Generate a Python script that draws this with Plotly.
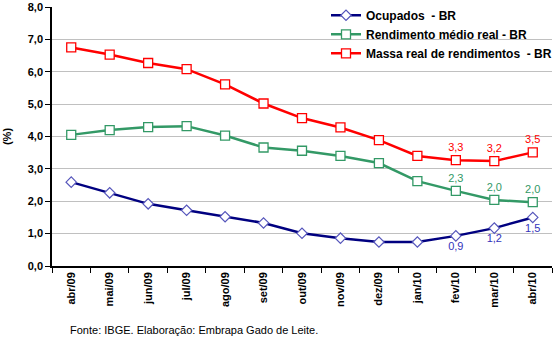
import plotly.graph_objects as go

months = ["abr/09", "mai/09", "jun/09", "jul/09", "ago/09", "set/09", "out/09",
          "nov/09", "dez/09", "jan/10", "fev/10", "mar/10", "abr/10"]
ocupados = [2.59, 2.26, 1.92, 1.72, 1.52, 1.33, 1.01, 0.86, 0.74, 0.74, 0.93, 1.17, 1.50]
rendimento = [4.05, 4.20, 4.29, 4.32, 4.03, 3.66, 3.56, 3.40, 3.18, 2.62, 2.32, 2.04, 1.97]
massa = [6.75, 6.53, 6.27, 6.08, 5.61, 5.02, 4.57, 4.28, 3.89, 3.40, 3.27, 3.24, 3.51]

# only the last three points carry value labels
def last_labels(vals, n=3):
    return ["" if i < len(vals) - n else f"{v:.1f}".replace(".", ",") for i, v in enumerate(vals)]

FONT = "Liberation Sans, Arial, sans-serif"

fig = go.Figure()
fig.add_trace(go.Scatter(
    x=months, y=ocupados, name="Ocupados  - BR", mode="lines+markers+text",
    line=dict(color="#000080", width=2.5),
    marker=dict(symbol="diamond", size=8, color="white", line=dict(color="#5555bb", width=1.2)),
    text=last_labels(ocupados), textposition="bottom center",
    textfont=dict(family=FONT, size=11, color="#3333bb"),
))
fig.add_trace(go.Scatter(
    x=months, y=rendimento, name="Rendimento médio real - BR", mode="lines+markers+text",
    line=dict(color="#339966", width=2.5),
    marker=dict(symbol="square", size=9, color="white", line=dict(color="#339966", width=1.3)),
    text=last_labels(rendimento), textposition="top center",
    textfont=dict(family=FONT, size=11, color="#339966"),
))
fig.add_trace(go.Scatter(
    x=months, y=massa, name="Massa real de rendimentos  - BR", mode="lines+markers+text",
    line=dict(color="#ff0000", width=2.5),
    marker=dict(symbol="square", size=9, color="white", line=dict(color="#ff0000", width=1.3)),
    text=last_labels(massa), textposition="top center",
    textfont=dict(family=FONT, size=11, color="#ff0000"),
))

fig.update_layout(
    width=560, height=339,
    margin=dict(l=52, r=8, t=7, b=73, autoexpand=False),
    paper_bgcolor="white", plot_bgcolor="white",
    font=dict(family=FONT, color="black"),
    separators=",.",
    showlegend=True,
    legend=dict(x=0.548, y=1.024, xanchor="left", yanchor="top",
                bgcolor="rgba(0,0,0,0)", font=dict(family=FONT, size=12, color="black", weight="bold"),
                tracegroupgap=0, itemwidth=30),
    xaxis=dict(
        type="category", showgrid=False, showline=True, linecolor="black", linewidth=1.5,
        ticks="outside", tickson="boundaries", ticklen=5, tickcolor="black",
        tickangle=-90, tickfont=dict(family=FONT, size=11, color="black", weight="bold"),
        range=[-0.5, 12.5],
    ),
    yaxis=dict(
        range=[0, 8], dtick=1, tickformat=".1f", showgrid=True, gridcolor="#c0c0c0", gridwidth=1,
        showline=True, linecolor="black", linewidth=1.5, ticks="outside", ticklen=5, tickcolor="black",
        tickfont=dict(family=FONT, size=11, color="black", weight="bold"), zeroline=False,
        title=dict(text="(%)", font=dict(family=FONT, size=11, color="black", weight="bold"), standoff=14),
    ),
    annotations=[dict(
        text="Fonte: IBGE. Elaboração: Embrapa Gado de Leite.", xref="paper", yref="paper",
        x=0.032, y=-0.248, xanchor="left", yanchor="middle", showarrow=False,
        font=dict(family=FONT, size=11, color="black"),
    )],
)

fig.write_html("out.html")
